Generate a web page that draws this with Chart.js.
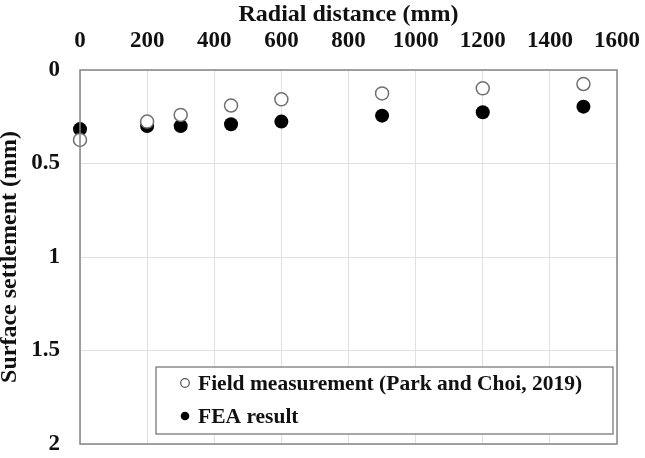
<!DOCTYPE html>
<html><head><meta charset="utf-8">
<script src="https://cdn.jsdelivr.net/npm/chart.js@4/dist/chart.umd.min.js"></script>
<style>html,body{margin:0;padding:0;background:#fff}#wrap{width:645px;height:458px}</style>
</head><body><div id="wrap"><canvas id="c" width="645" height="458"></canvas></div>
<script>
const distances = [0, 200, 300, 450, 600, 900, 1200, 1500];
const fieldSettlement = [0.374, 0.276, 0.24, 0.19, 0.157, 0.125, 0.098, 0.075];
const feaSettlement = [0.316, 0.30, 0.30, 0.29, 0.276, 0.244, 0.226, 0.196];
const seriesLabels = ['Field measurement (Park and Choi, 2019)', 'FEA result'];
const xTitle = 'Radial distance (mm)';
const yTitle = 'Surface settlement (mm)';

const FONT = '"Liberation Serif", "Times New Roman", serif';

const frame = {
  id: 'frame',
  afterDatasetsDraw(chart) {
    const {ctx, chartArea: a} = chart;
    ctx.save();
    ctx.strokeStyle = '#858585';
    ctx.lineWidth = 1.5;
    ctx.strokeRect(a.left, a.top, a.right - a.left, a.bottom - a.top);
    // legend inside plot
    const lx = 156, ly = 367, lw = 457, lh = 67;
    ctx.fillStyle = '#fff';
    ctx.fillRect(lx, ly, lw, lh);
    ctx.strokeStyle = '#6f6f6f';
    ctx.lineWidth = 1.2;
    ctx.strokeRect(lx, ly, lw, lh);
    ctx.font = 'bold 21.5px ' + FONT;
    ctx.textBaseline = 'middle';
    const rows = [{y: 383, open: true}, {y: 416, open: false}];
    rows.forEach((r, i) => {
      ctx.beginPath();
      ctx.arc(185, r.y, 4.3, 0, Math.PI * 2);
      if (r.open) { ctx.strokeStyle = '#555'; ctx.lineWidth = 1.2; ctx.stroke(); }
      else { ctx.fillStyle = '#000'; ctx.fill(); }
      ctx.fillStyle = '#111';
      ctx.fillText(chart.data.datasets[i].label, 198, r.y + 1);
    });
    ctx.restore();
  }
};

new Chart(document.getElementById('c'), {
  type: 'scatter',
  data: {
    datasets: [
      {
        label: seriesLabels[0],
        data: distances.map((x, i) => ({x, y: fieldSettlement[i]})),
        pointRadius: 6.5, pointBorderWidth: 1.5, clip: false,
        pointBorderColor: '#707070', pointBackgroundColor: '#ffffff'
      },
      {
        label: seriesLabels[1],
        data: distances.map((x, i) => ({x, y: feaSettlement[i]})),
        pointRadius: 7, pointBorderWidth: 0, clip: false,
        pointBorderColor: '#000', pointBackgroundColor: '#000'
      }
    ]
  },
  options: {
    responsive: false, animation: false,
    layout: {padding: {left: 0, top: 0, right: 28, bottom: 14}},
    plugins: {legend: {display: false}, tooltip: {enabled: false}},
    scales: {
      x: {
        type: 'linear', position: 'top', min: 0, max: 1600,
        ticks: {stepSize: 200, padding: 15, color: '#111', maxRotation: 0, autoSkip: false,
          callback: v => String(v),
          font: {family: FONT, size: 23, weight: 'bold'}},
        grid: {color: '#e0e0e0', drawTicks: false, lineWidth: 1},
        border: {display: false},
        title: {display: true, text: xTitle, color: '#111', padding: {top: 3, bottom: 0}, font: {family: FONT, size: 24, weight: 'bold', lineHeight: 1}},
        afterFit(s) { s.height = 70; s.paddingLeft = 0; s.paddingRight = 0; }
      },
      y: {
        type: 'linear', reverse: true, min: 0, max: 2,
        ticks: {stepSize: 0.5, padding: 20, color: '#111', autoSkip: false,
          callback: v => String(v),
          font: {family: FONT, size: 23, weight: 'bold'}},
        grid: {color: '#e0e0e0', drawTicks: false, lineWidth: 1},
        border: {display: false},
        title: {display: true, text: yTitle, color: '#111', padding: {top: -2, bottom: 0}, font: {family: FONT, size: 24, weight: 'bold', lineHeight: 1}},
        afterFit(s) { s.width = 80; s.paddingTop = 0; s.paddingBottom = 0; }
      }
    }
  },
  plugins: [frame]
});
</script>
</body></html>
